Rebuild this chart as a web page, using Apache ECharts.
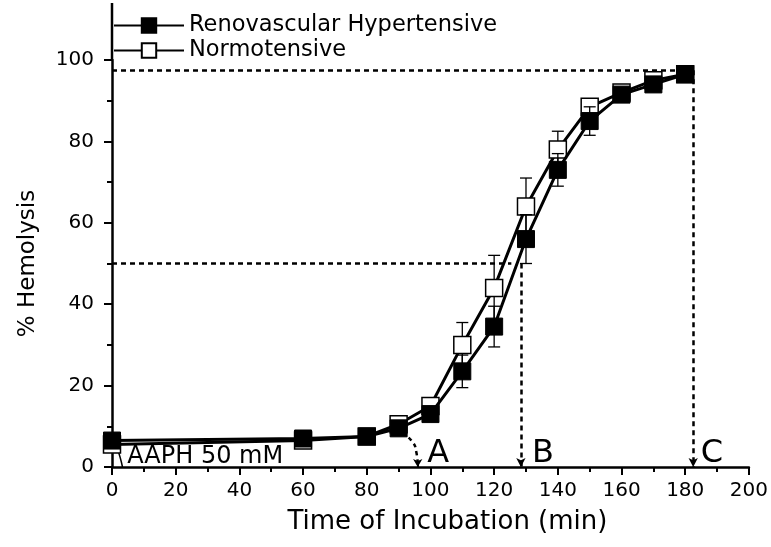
<!DOCTYPE html>
<html><head><meta charset="utf-8">
<script src="https://cdn.jsdelivr.net/npm/echarts@6/dist/echarts.min.js"></script>
<style>html,body{margin:0;padding:0;background:#fff}#c{width:771px;height:547px}</style>
</head><body><div id="c"></div>
<script>
const times = [0, 60, 80, 90, 100, 110, 120, 130, 140, 150, 160, 170, 180];
const renoValues = [6.5, 7, 7.5, 9.5, 13, 23.5, 34.5, 56, 73, 85, 91.5, 94, 96.5];
const renoErrors = [0.5, 0.5, 0.5, 0.8, 1, 4, 5, 6, 4, 3.5, 1.5, 1, 0.5];
const normoValues = [5.5, 6.5, 7.5, 10.5, 15, 30, 44, 64, 78, 88.5, 92, 95, 96.5];
const normoErrors = [0.5, 0.5, 0.5, 1, 1, 5.5, 8, 7, 4.5, 1.5, 1, 1, 0.5];
const xTicks = [0, 20, 40, 60, 80, 100, 120, 140, 160, 180, 200];
const yTicks = [0, 20, 40, 60, 80, 100];
const plateauLevel = 97.5;   // upper dashed reference
const halfLevel = 50;        // 50 % reference
const markA = 96, markB = 128.4, markC = 182.5;
const annotations = [
  {x: 102.4, text: 'A'},
  {x: 135.3, text: 'B'},
  {x: 188.4, text: 'C'}
];

const FONT = 'DejaVu Sans';
const chart = echarts.init(document.getElementById('c'), null, {renderer: 'canvas'});

function errSeries(vals, errs, z) {
  return {
    type: 'custom', z: z, silent: true,
    data: times.map((t, i) => [t, vals[i] - errs[i], vals[i] + errs[i]]),
    renderItem: function (params, api) {
      const x = api.coord([api.value(0), 0])[0];
      const lo = api.coord([0, api.value(1)])[1];
      const hi = api.coord([0, api.value(2)])[1];
      const w = 6;
      const st = {stroke: '#000', lineWidth: 1.3};
      return {type: 'group', children: [
        {type: 'line', shape: {x1: x, y1: lo, x2: x, y2: hi}, style: st},
        {type: 'line', shape: {x1: x - w, y1: lo, x2: x + w, y2: lo}, style: st},
        {type: 'line', shape: {x1: x - w, y1: hi, x2: x + w, y2: hi}, style: st}
      ]};
    }
  };
}

const dashStyle = {color: '#000', width: 2.5, type: [5, 4]};

chart.setOption({
  animation: false,
  backgroundColor: '#fff',
  textStyle: {fontFamily: FONT, color: '#000'},
  grid: {left: 112, right: 22, top: 60, bottom: 80, containLabel: false},
  legend: {
    orient: 'vertical', left: 108, top: 9, itemGap: 2,
    itemWidth: 70, itemHeight: 18,
    textStyle: {fontFamily: FONT, fontSize: 22.5, color: '#000'},
    data: ['Renovascular Hypertensive', 'Normotensive']
  },
  xAxis: {
    type: 'value', min: 0, max: 200, interval: 20,
    name: 'Time of Incubation (min)', nameLocation: 'middle', nameGap: 42,
    nameTextStyle: {fontFamily: FONT, fontSize: 26, color: '#000', padding: [0, 0, 0, 34]},
    axisLine: {onZero: false, lineStyle: {color: '#000', width: 2.5}},
    axisTick: {inside: false, length: 8, lineStyle: {color: '#000', width: 2}},
    minorTick: {show: true, splitNumber: 2, length: 5, lineStyle: {color: '#000', width: 2}},
    axisLabel: {fontFamily: FONT, fontSize: 20, color: '#000', margin: 14},
    splitLine: {show: false}
  },
  yAxis: {
    type: 'value', min: 0, max: 100, interval: 20,
    name: '% Hemolysis', nameLocation: 'middle', nameGap: 72,
    nameTextStyle: {fontFamily: FONT, fontSize: 23, color: '#000'},
    axisLine: {show: true, onZero: false, lineStyle: {color: '#000', width: 2.5}},
    axisTick: {show: true, length: 8, lineStyle: {color: '#000', width: 2}},
    minorTick: {show: true, splitNumber: 2, length: 5, lineStyle: {color: '#000', width: 2}},
    axisLabel: {fontFamily: FONT, fontSize: 20, color: '#000', margin: 18},
    splitLine: {show: false}
  },
  series: [
    {
      name: 'ref', type: 'line', silent: true, symbol: 'none', z: 1,
      data: [],
      markLine: {
        silent: true, symbol: ['none', 'none'], label: {show: false},
        lineStyle: dashStyle,
        data: [
          [{coord: [0, plateauLevel]}, {coord: [markC + 1, plateauLevel]}],
          [{coord: [0, halfLevel]}, {coord: [markB - 3, halfLevel]}]
        ]
      }
    },
    {
      name: 'arrows', type: 'line', silent: true, symbol: 'none', z: 1,
      data: [],
      markLine: {
        silent: true, symbol: ['none', 'arrow'], symbolSize: [7, 9], label: {show: false},
        lineStyle: {color: '#000', width: 2.5, type: [5, 4]},
        data: [
          [{coord: [markB, halfLevel]}, {coord: [markB, 0]}],
          [{coord: [markC, plateauLevel]}, {coord: [markC, 0]}]
        ]
      }
    },
    {
      name: 'curveA', type: 'line', silent: true, smooth: 0.6, z: 1,
      showSymbol: false,
      lineStyle: {color: '#000', width: 2.5, type: [4, 4]},
      data: [[91, 8.2], [94, 6.5], [95.6, 3.5], [markA, 0.8]],
      markLine: {
        silent: true, symbol: ['none', 'arrow'], symbolSize: [7, 8], label: {show: false},
        lineStyle: {color: '#000', width: 2},
        data: [[{coord: [markA, 1.5]}, {coord: [markA, 0]}]]
      }
    },
    {
      name: 'curve0', type: 'line', silent: true, smooth: 0.5, z: 1, showSymbol: false,
      lineStyle: {color: '#000', width: 1.5},
      data: [[1.5, 5], [2.5, 2.5], [3.3, 0]]
    },
    errSeries(normoValues, normoErrors, 2),
    {
      name: 'Normotensive', type: 'line', z: 3,
      data: times.map((t, i) => [t, normoValues[i]]),
      symbol: 'rect', symbolSize: 17,
      lineStyle: {color: '#000', width: 3},
      itemStyle: {color: '#fff', borderColor: '#000', borderWidth: 1.5}
    },
    errSeries(renoValues, renoErrors, 4),
    {
      name: 'Renovascular Hypertensive', type: 'line', z: 5,
      data: times.map((t, i) => [t, renoValues[i]]),
      symbol: 'rect', symbolSize: 17,
      lineStyle: {color: '#000', width: 3},
      itemStyle: {color: '#000', borderColor: '#000', borderWidth: 1}
    },
    {
      name: 'labels', type: 'scatter', silent: true, symbolSize: 0, z: 6, clip: false,
      itemStyle: {opacity: 1},
      data: annotations.map(a => ({value: [a.x, 0], label: {formatter: a.text}})),
      label: {show: true, position: 'top', distance: -3, fontFamily: FONT, fontSize: 32, color: '#000'}
    },
    {
      name: 'aaph', type: 'scatter', silent: true, symbolSize: 0, z: 6, clip: false,
      itemStyle: {opacity: 1},
      data: [{value: [4.8, 0]}],
      label: {show: true, position: 'insideBottomLeft', distance: 0, offset: [0, 2], formatter: 'AAPH 50 mM',
        fontFamily: FONT, fontSize: 24, color: '#000'}
    }
  ]
});

// y-axis line continues above the 100 tick, up to the top of the frame
const top100 = chart.convertToPixel({gridIndex: 0}, [0, 100]);
chart.setOption({
  graphic: [{
    type: 'line', silent: true, z: 10,
    shape: {x1: top100[0], y1: top100[1], x2: top100[0], y2: 3},
    style: {stroke: '#000', lineWidth: 2.5}
  }]
});
</script></body></html>
